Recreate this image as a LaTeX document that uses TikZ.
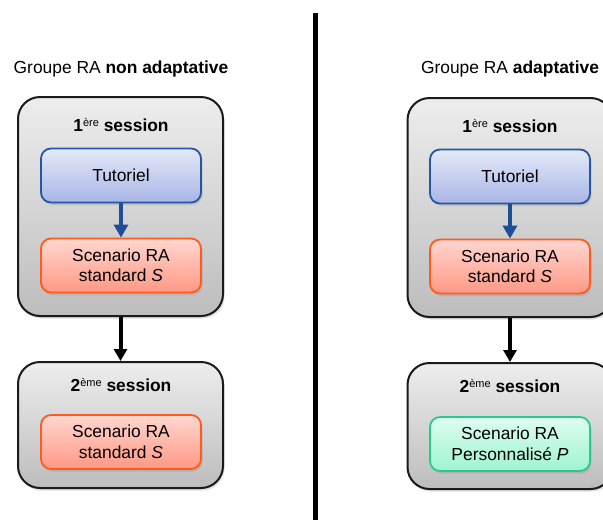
\documentclass[tikz,border=0pt]{standalone}
\usepackage{fontspec}
\setmainfont{Liberation Sans}
\usetikzlibrary{arrows.meta,shadows}

\definecolor{sessborder}{HTML}{1A1A1A}
\definecolor{tutoborder}{HTML}{2557A0}
\definecolor{scenborder}{HTML}{FF5A1F}
\definecolor{persoborder}{HTML}{2BC98C}
\definecolor{arrowblue}{HTML}{1F4E99}
\definecolor{tutotop}{HTML}{E4E9F8}
\definecolor{tutobot}{HTML}{A8B6E6}
\definecolor{scentop}{HTML}{FFD6D0}
\definecolor{scenbot}{HTML}{FF9884}
\definecolor{persotop}{HTML}{DEFCF0}
\definecolor{persobot}{HTML}{9EF5CF}

\tikzset{
  session/.style={draw=sessborder, line width=2pt, rounded corners=22pt,
    top color=black!7, bottom color=black!26,
    minimum width=205pt, minimum height=#1, inner sep=0pt,
    drop shadow={opacity=0.25, shadow xshift=1.5pt, shadow yshift=-2.5pt}},
  inbox/.style={line width=1.8pt, rounded corners=10pt,
    minimum width=160pt, minimum height=54pt, inner sep=0pt, align=center,
    drop shadow={opacity=0.25, shadow xshift=1.5pt, shadow yshift=-2.5pt}},
  tuto/.style={inbox, draw=tutoborder, top color=tutotop, bottom color=tutobot},
  scen/.style={inbox, draw=scenborder, top color=scentop, bottom color=scenbot},
  perso/.style={inbox, draw=persoborder, top color=persotop, bottom color=persobot},
  title/.style={font=\fontsize{17.4}{20}\selectfont\bfseries},
  stepnext/.style={-{Triangle[width=13pt,length=12pt]}, line width=4pt, black},
  stepin/.style={-{Triangle[width=14pt,length=13pt]}, line width=4.7pt, arrowblue}
}
\newcommand{\sessup}[1]{\raisebox{0.55ex}{\fontsize{11}{12}\selectfont\mdseries #1}}

\begin{document}
\begin{tikzpicture}[x=1pt, y=-1pt, font=\fontsize{17.4}{20.5}\selectfont]
\clip (0,0) rectangle (603,520);
\useasboundingbox (0,0) rectangle (603,520);

% separation
\draw[line width=4.5pt] (315.7,13) -- (315.7,520);

% left : non adaptative
\node (grpA) at (121,69) {Groupe RA \textbf{non adaptative}};
\node[session=219pt] (sessA1) at (120.5,206.5) {};
\node[title] (titA1) at (121,125) {1\sessup{ère} session};
\node[tuto] (tutoA) at (121,175.5) {Tutoriel};
\node[scen] (scenA1) at (121,265.5) {Scenario RA\\standard \textit{S}};
\node[session=126pt] (sessA2) at (120.5,425) {};
\node[title] (titA2) at (121,385) {2\sessup{ème} session};
\node[scen] (scenA2) at (121,442) {Scenario RA\\standard \textit{S}};

\draw[stepin] (tutoA) -- (scenA1);
\draw[stepnext] (sessA1) -- (sessA2);

% right : adaptative
\node (grpB) at (510,69) {Groupe RA \textbf{adaptative}};
\node[session=219pt] (sessB1) at (510,207.5) {};
\node[title] (titB1) at (510,126) {1\sessup{ère} session};
\node[tuto] (tutoB) at (510,176.5) {Tutoriel};
\node[scen] (scenB1) at (510,266.5) {Scenario RA\\standard \textit{S}};
\node[session=126pt] (sessB2) at (510,426) {};
\node[title] (titB2) at (510,386) {2\sessup{ème} session};
\node[perso] (persoB) at (510,444) {Scenario RA\\Personnalisé \textit{P}};

\draw[stepin] (tutoB) -- (scenB1);
\draw[stepnext] (sessB1) -- (sessB2);
\end{tikzpicture}
\end{document}
